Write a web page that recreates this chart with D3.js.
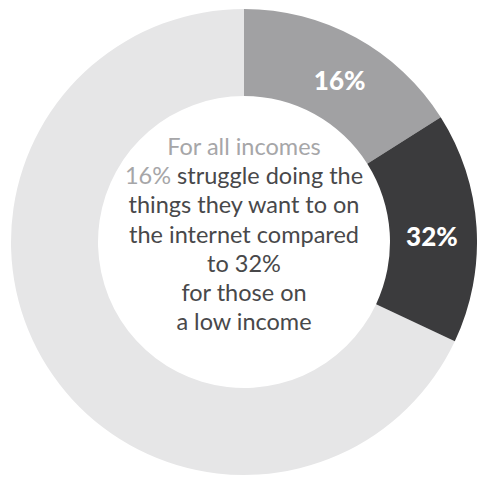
<!DOCTYPE html>
<head>
  <meta charset="utf-8">
  <script src="https://d3js.org/d3.v7.min.js"></script>
  <style>
    body { margin:0; background:#fff; }
    svg { display:block; }
  </style>
</head>
<body>
  <svg width="477" height="477"></svg>
  <script>
    // shares (percent) shown on the ring, cumulative from 12 o'clock
    var labels = ['16%', '32%'];
    var shares = [16, 32];
    var colors = ['#a1a1a3', '#3b3b3d'];
    var restColor = '#e6e6e7';

    // centre text lines: [muted part, dark part]
    var lines = [
      ['For all incomes', ''],
      ['16%', ' struggle doing the'],
      ['', 'things they want to on'],
      ['', 'the internet compared'],
      ['', 'to 32%'],
      ['', 'for those on'],
      ['', 'a low income']
    ];

    var cx = 244, cy = 242;
    var outer = 233, inner = 146;

    var angle = d3.scaleLinear().domain([0, 100]).range([0, 2 * Math.PI]);
    var arc = d3.arc().innerRadius(inner).outerRadius(outer);

    var svg = d3.select('svg');
    var g = svg.append('g').attr('transform', 'translate(' + [cx, cy] + ')');

    // background ring
    g.append('path')
      .attr('d', arc({startAngle: angle(shares[shares.length - 1]), endAngle: angle(100)}))
      .attr('fill', restColor);

    var segs = shares.map((s, i) => ({
      from: i ? shares[i - 1] : 0,
      to: s,
      label: labels[i],
      color: colors[i]
    }));
    segs.forEach(d => { d.startAngle = angle(d.from); d.endAngle = angle(d.to); });

    g.selectAll('path.seg')
      .data(segs)
      .enter().append('path')
      .attr('class', 'seg')
      .attr('d', arc)
      .attr('fill', d => d.color);

    // labels sit just past the middle of each segment
    var labelR = 188;
    g.selectAll('text.lab')
      .data(segs)
      .enter().append('text')
      .attr('class', 'lab')
      .attr('transform', d => {
        var a = angle((d.from + d.to) / 2 + 0.5);
        return 'translate(' + [labelR * Math.sin(a), -labelR * Math.cos(a)] + ')';
      })
      .attr('text-anchor', 'middle')
      .attr('dominant-baseline', 'central')
      .attr('fill', '#fff')
      .style('font-family', 'Lato, sans-serif')
      .style('font-weight', 900)
      .style('font-size', '26px')
      .text(d => d.label);

    var t = g.append('text')
      .attr('text-anchor', 'middle')
      .style('font-family', 'Lato, sans-serif')
      .style('font-size', '23.5px');

    lines.forEach((l, i) => {
      var tl = t.append('tspan').attr('x', 0).attr('y', -87 + i * 29.2);
      if (l[0]) tl.append('tspan').attr('fill', '#a6a6a8').text(l[0]);
      if (l[1]) tl.append('tspan').attr('fill', '#48484a').text(l[1]);
    });
  </script>
</body>
